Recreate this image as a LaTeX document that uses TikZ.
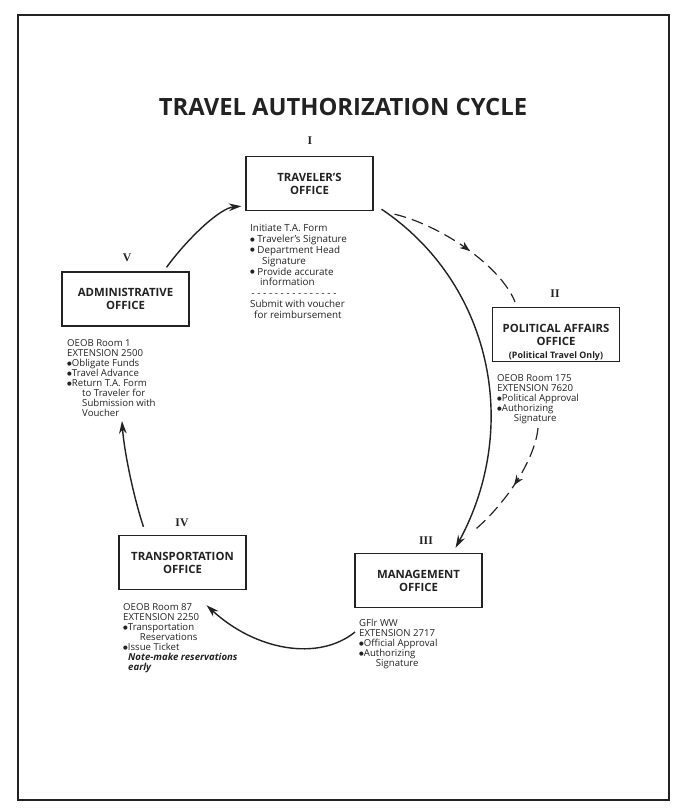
\documentclass[tikz,border=0pt]{standalone}
\usepackage{fontspec}
\setmainfont{Open Sans}
\newfontfamily\numfont{Liberation Serif}
\newfontfamily\dotfont{DejaVu Sans}
\usepackage{tikz}
\usetikzlibrary{arrows.meta}
\usetikzlibrary{decorations.markings}

\definecolor{ink}{HTML}{222222}
\newcommand{\dashrow}{\hbox to 26.5mm{\leaders\hbox to 1.75mm{\hss-\hss}\hfill}}
\newcommand{\ind}[1][2.2mm]{\hspace*{#1}}
\newcommand{\blt}{\raisebox{0.25ex}{\dotfont\fontsize{4.6}{5}\selectfont ●}}

\tikzset{
  office/.style={draw=ink, line width=1.2pt, minimum width=3.8cm, minimum height=1.62cm,
    align=center, text=ink, inner sep=2pt, font=\bfseries\fontsize{9.7}{11}\selectfont},
  note/.style={anchor=north west, align=left, inner sep=0pt, text=ink,
    font=\fontsize{8.2}{8.6}\selectfont},
  numeral/.style={text=ink, inner sep=0pt, font=\numfont\bfseries\fontsize{10}{12}\selectfont},
  flow/.style={draw=ink, line width=1.2pt, -{Stealth[length=3.8mm,width=2.3mm]}},
  maybe/.style={draw=ink, line width=1pt, dash pattern=on 3.6mm off 1.8mm,
    postaction={decorate}, decoration={markings,
      mark=at position #1 with {\arrow{Stealth[length=3mm,width=2.3mm]}}}},
}

\begin{document}
\begin{tikzpicture}[x=0.03cm,y=-0.03cm]

  \useasboundingbox (0,0) rectangle (685,809);
  \draw[ink, line width=1.2pt] (18,15) rectangle (669,800);

  \node[text=ink, font=\bfseries\fontsize{20.3}{24}\selectfont] (title) at (343,107) {TRAVEL AUTHORIZATION CYCLE};

  % offices
  \node[office] (trav) at (309.5,183.5) {TRAVELER'S\\OFFICE};
  \node[office, label={[anchor=south, inner sep=1.2pt, text=ink,
      font=\bfseries\fontsize{7.6}{8}\selectfont]south:(Political Travel Only)}]
    (pol) at (556,334.5) {POLITICAL AFFAIRS\\OFFICE};
  \node[office] (mgmt) at (418.5,580.5) {MANAGEMENT\\OFFICE};
  \node[office] (trans) at (182.5,562.5) {TRANSPORTATION\\OFFICE};
  \node[office] (admin) at (125.5,299) {ADMINISTRATIVE\\OFFICE};

  \node[numeral] (numI) at (310,141) {I};
  \node[numeral] (numII) at (555,294) {II};
  \node[numeral] (numIII) at (426,541) {III};
  \node[numeral] (numIV) at (182,523) {IV};
  \node[numeral] (numV) at (127,258) {V};

  % notes under the boxes
  \node[note, font=\fontsize{8.4}{9.3}\selectfont] (travnote) at (250,224) {Initiate T.A. Form\\
    \blt\ Traveler's Signature\\
    \blt\ Department Head\\
    \ind[3.6mm]Signature\\
    \blt\ Provide accurate\\
    \ind[3mm]information\\
    \dashrow\\
    Submit with voucher\\
    \ind[1.2mm]for reimbursement};
  \node[note] (polnote) at (497,374) {OEOB Room 175\\
    EXTENSION 7620\\
    \blt Political Approval\\
    \blt Authorizing\\
    \ind[5mm]Signature};
  \node[note] (mgmtnote) at (359,619) {GFlr WW\\
    EXTENSION 2717\\
    \blt Official Approval\\
    \blt Authorizing\\
    \ind[5mm]Signature};
  \node[note] (transnote) at (123,603) {OEOB Room 87\\
    EXTENSION 2250\\
    \blt Transportation\\
    \ind[5mm]Reservations\\
    \blt Issue Ticket\\
    \ind[1.5mm]\textbf{\textit{Note-make reservations}}\\
    \ind[1.5mm]\textbf{\textit{early}}};
  \node[note] (adminnote) at (67,339) {OEOB Room 1\\
    EXTENSION 2500\\
    \blt Obligate Funds\\
    \blt Travel Advance\\
    \blt Return T.A. Form\\
    \ind[4.5mm]to Traveler for\\
    \ind[4.5mm]Submission with\\
    \ind[4.5mm]Voucher};

  % cycle
  \draw[flow] ([shift={(8,-2)}]trav.south east) .. controls (490,282) and (522,425) .. ([shift={(-27,-5)}]mgmt.north east);
  \draw[maybe=0.55] ([shift={(21,3)}]trav.south east) .. controls (440,225) and (500,265) .. ([shift={(-41,-5)}]pol.north);
  \draw[maybe=0.5] ([shift={(41,54)}]polnote.north west) .. controls (535,460) and (505,505) .. ([shift={(-10,-21)}]mgmt.north east);
  \draw[flow] ([shift={(-4,13)}]mgmtnote.north west) .. controls (318,662) and (255,650) .. ([shift={(-40,15)}]trans.south east);
  \draw[flow] ([shift={(25,-8)}]trans.north west) .. controls (133,495) and (124,450) .. ([shift={(55,82)}]adminnote.north west);
  \draw[flow] ([shift={(-23,-4)}]admin.north east) .. controls (188,238) and (220,208) .. ([shift={(-4,-5)}]trav.south west);

\end{tikzpicture}
\end{document}
